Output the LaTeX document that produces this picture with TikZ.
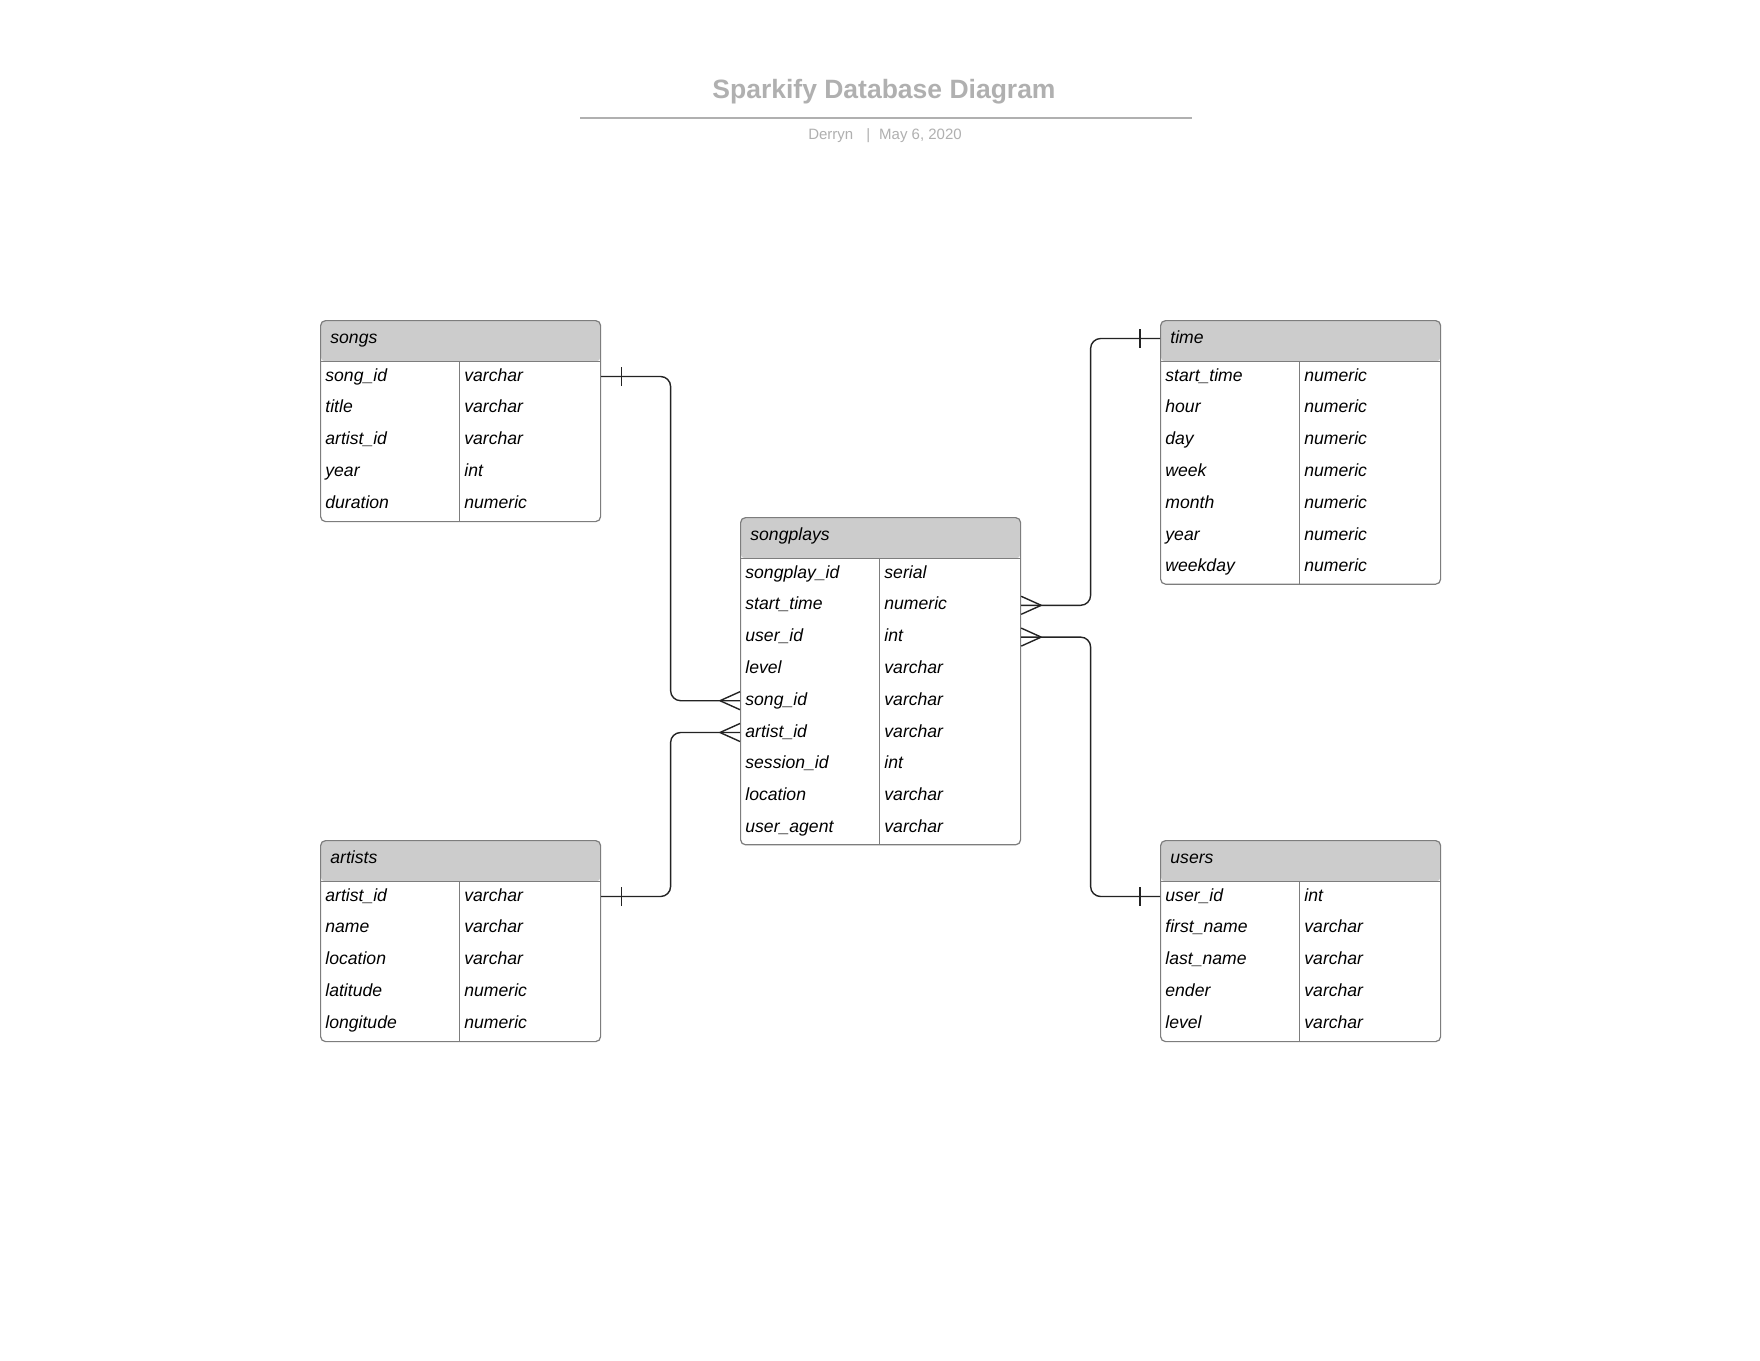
\documentclass[tikz,border=0pt]{standalone}
\usepackage{fontspec}
\setmainfont{Liberation Sans}
\usetikzlibrary{positioning, calc, decorations.markings}

\definecolor{tblline}{RGB}{125,125,125}
\definecolor{headgray}{RGB}{204,204,204}
\definecolor{relclr}{RGB}{35,35,35}
\definecolor{titlegray}{RGB}{176,176,176}

\begin{document}
\begin{tikzpicture}[
    x=0.5pt, y=-0.5pt,
    every node/.style={font=\fontsize{8.8}{10}\selectfont\itshape},
    tablebox/.style={rectangle, draw=tblline, line width=0.6pt, rounded corners=2.5pt, minimum width=140pt, anchor=north west, inner sep=0pt,
        path picture={
            \fill[headgray] (path picture bounding box.north west) rectangle ([yshift=-20.5pt]path picture bounding box.north east);
            \draw[tblline, line width=0.6pt] ([yshift=-20.5pt]path picture bounding box.north west) -- ([yshift=-20.5pt]path picture bounding box.north east);
            \draw[tblline, line width=0.6pt] ([xshift=69.5pt,yshift=-20.5pt]path picture bounding box.north west) -- ([xshift=69.5pt]path picture bounding box.south west);
        }},
    field/.style={anchor=base west, inner sep=0pt, text height=6.5pt, text depth=2pt},
    headtext/.style={field},
    relline/.style={draw=relclr, line width=0.7pt, rounded corners=5pt, postaction={decorate},
        decoration={markings,
            mark=at position 10pt with {\draw[relclr, line width=0.7pt] (0,-4.75pt) -- (0,4.75pt);},
            mark=at position -10pt with {\draw[relclr, line width=0.7pt] (0,0) -- (10pt,4.5pt) (0,0) -- (10pt,-4.5pt);}}},
    titletext/.style={font=\fontsize{13.25}{15}\selectfont\bfseries, text=titlegray, anchor=base, inner sep=0pt},
    subtext/.style={font=\fontsize{7.5}{9}\selectfont, text=titlegray, anchor=base, inner sep=0pt}
]
\fill[white] (0,0) rectangle (1760,1360);
\useasboundingbox (0,0) rectangle (1760,1360);

% Title
\node[titletext] (title) at (884,98) {Sparkify Database Diagram};
\coordinate (rule-l) at (580,118);
\coordinate (rule-r) at (1192,118);
\draw[draw=titlegray, line width=1pt] (rule-l) -- (rule-r);
\node[subtext] (subtitle) at (885,139) {Derryn\hspace{6.5pt}|\hspace{4.5pt}May 6, 2020};

% Tables
\node[tablebox, minimum height=100.5pt] (songs) at (320,320) {};
\node[tablebox, minimum height=100.5pt] (artists) at (320,840) {};
\node[tablebox, minimum height=163.6pt] (songplays) at (740,517) {};
\node[tablebox, minimum height=131.8pt] (time) at (1160,320) {};
\node[tablebox, minimum height=100.5pt] (users) at (1160,840) {};

% songs
\node[headtext] (songs-h) at ($(songs.north west)+(10,23)$) {songs};
\foreach \fld/\typ [count=\i] in {song\_id/varchar, title/varchar, artist\_id/varchar, year/int, duration/numeric} {
    \node[field] (songs-\i) at ($(songs.north west)+(5,{61+31.8*(\i-1)})$) {\fld};
    \node[field] at ($(songs.north west)+(144,{61+31.8*(\i-1)})$) {\typ};
}

% artists
\node[headtext] (artists-h) at ($(artists.north west)+(10,23)$) {artists};
\foreach \fld/\typ [count=\i] in {artist\_id/varchar, name/varchar, location/varchar, latitude/numeric, longitude/numeric} {
    \node[field] (artists-\i) at ($(artists.north west)+(5,{61+31.8*(\i-1)})$) {\fld};
    \node[field] at ($(artists.north west)+(144,{61+31.8*(\i-1)})$) {\typ};
}

% songplays
\node[headtext] (songplays-h) at ($(songplays.north west)+(10,23)$) {songplays};
\foreach \fld/\typ [count=\i] in {songplay\_id/serial, start\_time/numeric, user\_id/int, level/varchar, song\_id/varchar, artist\_id/varchar, session\_id/int, location/varchar, user\_agent/varchar} {
    \node[field] (songplays-\i) at ($(songplays.north west)+(5,{61+31.8*(\i-1)})$) {\fld};
    \node[field] at ($(songplays.north west)+(144,{61+31.8*(\i-1)})$) {\typ};
}

% time
\node[headtext] (time-h) at ($(time.north west)+(10,23)$) {time};
\foreach \fld/\typ [count=\i] in {start\_time/numeric, hour/numeric, day/numeric, week/numeric, month/numeric, year/numeric, weekday/numeric} {
    \node[field] (time-\i) at ($(time.north west)+(5,{61+31.8*(\i-1)})$) {\fld};
    \node[field] at ($(time.north west)+(144,{61+31.8*(\i-1)})$) {\typ};
}

% users
\node[headtext] (users-h) at ($(users.north west)+(10,23)$) {users};
\foreach \fld/\typ [count=\i] in {user\_id/int, first\_name/varchar, last\_name/varchar, ender/varchar, level/varchar} {
    \node[field] (users-\i) at ($(users.north west)+(5,{61+31.8*(\i-1)})$) {\fld};
    \node[field] at ($(users.north west)+(144,{61+31.8*(\i-1)})$) {\typ};
}

% Relations (one side first, many side last)
\draw[relline] (songs.east |- songs-1) -| ($(songs.east)!.5!(songplays.west)$) |- (songplays.west |- songplays-5);
\draw[relline] (artists.east |- artists-1) -| ($(artists.east)!.5!(songplays.west)$) |- (songplays.west |- songplays-6);
\draw[relline] (time.west |- time-h) -| ($(time.west)!.5!(songplays.east)$) |- (songplays.east |- songplays-2);
\draw[relline] (users.west |- users-1) -| ($(users.west)!.5!(songplays.east)$) |- (songplays.east |- songplays-3);

\end{tikzpicture}
\end{document}
